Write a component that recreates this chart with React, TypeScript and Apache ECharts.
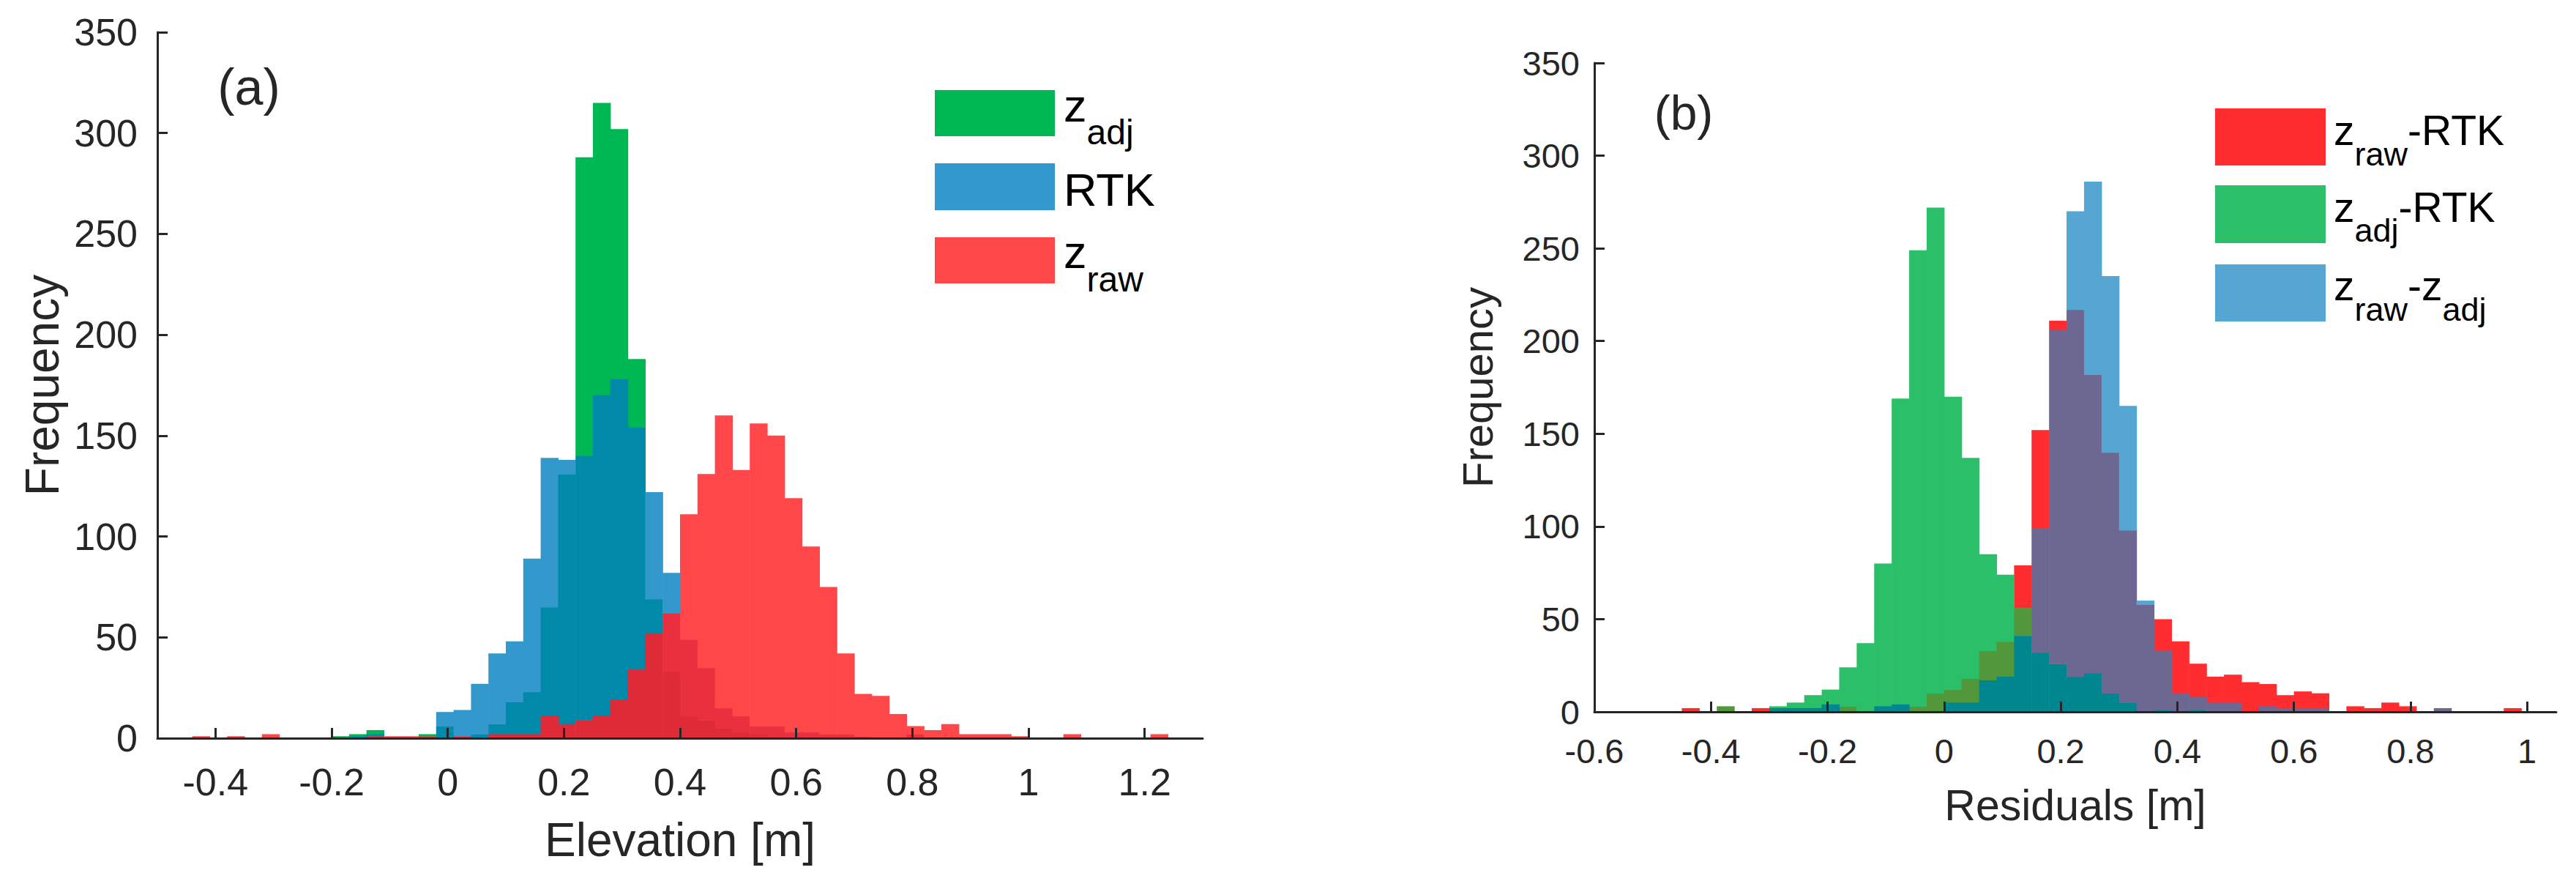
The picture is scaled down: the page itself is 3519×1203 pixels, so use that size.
import React, { useEffect, useRef } from 'react';
import * as echarts from 'echarts';

const FONT = '"Liberation Sans", Arial, Helvetica, sans-serif';
const AXIS_COLOR = '#262626';

// ---------- Panel (a): Elevation histograms ----------
const elevationBinStart = -0.47;
const elevationBinWidth = 0.03;
const elevationTicks = [-0.4, -0.2, 0, 0.2, 0.4, 0.6, 0.8, 1, 1.2];
const elevationNames = ['z_adj', 'RTK', 'z_raw'];
const zadjCounts = [
  0, 0, 0, 0, 0, 0, 0, 0, 0, 1, 2, 4, 0, 0, 2, 6, 0, 2, 7, 18, 23, 65, 131, 288, 315, 302, 188, 69, 33, 11, 9, 5, 3, 2,
  0, 0, 0, 0, 0, 0, 0, 0, 0, 0, 0, 0, 0, 0, 0, 0, 0, 0, 0, 0, 0, 0, 0,
];
const rtkCounts = [
  0, 0, 0, 0, 0, 0, 0, 0, 0, 0, 1, 2, 0, 0, 0, 13, 14, 27, 42, 48, 89, 139, 138, 140, 170, 178, 154, 122, 82, 49, 35, 15, 11, 6,
  6, 3, 3, 2, 2, 1, 0, 0, 2, 0, 0, 0, 0, 0, 0, 0, 0, 0, 0, 0, 0, 0, 0,
];
const zrawCounts = [
  0, 1, 0, 1, 0, 2, 0, 0, 0, 0, 0, 1, 1, 1, 1, 0, 1, 0, 2, 2, 2, 11, 7, 9, 11, 19, 34, 52, 62, 111, 131, 160, 133, 156,
  150, 119, 95, 75, 42, 22, 21, 12, 6, 4, 7, 2, 2, 2, 1, 0, 0, 2, 0, 0, 0, 0, 2,
];

// ---------- Panel (b): Residual histograms ----------
const residualBinStart = -0.45;
const residualBinWidth = 0.03;
const residualTicks = [-0.6, -0.4, -0.2, 0, 0.2, 0.4, 0.6, 0.8, 1];
const residualNames = ['z_raw-RTK', 'z_adj-RTK', 'z_raw-z_adj'];
const zrawRtkCounts = [
  2, 0, 3, 0, 2, 0, 0, 0, 0, 3, 0, 0, 0, 3, 10, 12, 18, 33, 38, 79, 152, 211, 217, 182, 140, 98, 58, 50, 38, 26, 19, 20,
  16, 15, 9, 11, 10, 0, 3, 2, 5, 3, 0, 2, 0, 0, 0, 2,
];
const zadjRtkCounts = [
  0, 0, 3, 0, 0, 3, 5, 9, 12, 24, 37, 80, 169, 249, 272, 170, 137, 85, 74, 56, 32, 26, 19, 21, 10, 5, 0, 1, 0, 1, 0, 0,
  0, 0, 0, 0, 0, 0, 0, 0, 0, 0, 0, 0, 0, 0, 0, 0,
];
const zrawZadjCounts = [
  0, 0, 0, 0, 0, 2, 2, 2, 4, 0, 0, 3, 4, 0, 0, 5, 5, 17, 19, 41, 99, 206, 270, 286, 235, 165, 60, 33, 10, 8, 5, 5,
  0, 3, 2, 2, 2, 0, 0, 0, 0, 0, 0, 2, 0, 0, 0, 0,
];

const frequencyMax = 350;
const frequencyStep = 50;

// overlap colours, keyed by bit mask of the series covering a region
const elevationColors: Record<number, string> = {
  1: '#00B853', // z_adj
  2: '#3399CC', // RTK
  3: '#0089A8', // z_adj + RTK
  4: '#FF474A', // z_raw
  5: '#E23A3E', // z_adj + z_raw
  6: '#E9303E', // RTK + z_raw
  7: '#DF2A37', // all
};
const residualColors: Record<number, string> = {
  1: '#FF2D2F', // z_raw-RTK
  2: '#2BBF69', // z_adj-RTK
  3: '#52983B',
  4: '#56A6D3', // z_raw-z_adj
  5: '#6D6891',
  6: '#00868F',
  7: '#00868F',
};

function buildRows(start: number, width: number, a: number[], b: number[], c: number[]) {
  return a.map((_, i) => [
    Number((start + i * width).toFixed(4)),
    Number((start + (i + 1) * width).toFixed(4)),
    a[i],
    b[i],
    c[i],
  ]);
}

function makeRenderItem(seriesIdx: number, colors: Record<number, string>) {
  return (_params: any, api: any) => {
    const x0 = api.value(0);
    const x1 = api.value(1);
    const h = [api.value(2), api.value(3), api.value(4)];
    const levels = Array.from(new Set([0, ...h])).sort((p, q) => p - q);
    const children: any[] = [];
    for (let j = 1; j < levels.length; j++) {
      const lo = levels[j - 1];
      const hi = levels[j];
      let mask = 0;
      let top = -1;
      for (let k = 0; k < 3; k++) {
        if (h[k] >= hi) {
          mask |= 1 << k;
          top = k;
        }
      }
      if (mask === 0 || top !== seriesIdx) continue;
      const p0 = api.coord([x0, hi]);
      const p1 = api.coord([x1, lo]);
      children.push({
        type: 'rect',
        shape: {
          x: p0[0],
          y: p0[1],
          width: p1[0] - p0[0] + 0.6,
          height: p1[1] - p0[1] + (lo > 0 ? 0.6 : 0),
        },
        style: { fill: colors[mask] },
      });
    }
    return { type: 'group', children };
  };
}

function panelSeries(
  axisIndex: number,
  names: string[],
  rows: number[][],
  colors: Record<number, string>,
) {
  return names.map((name, s) => ({
    type: 'custom',
    name,
    xAxisIndex: axisIndex,
    yAxisIndex: axisIndex,
    silent: true,
    encode: { x: [0, 1], y: [2, 3, 4] },
    data: rows,
    renderItem: makeRenderItem(s, colors),
    z: 2,
  }));
}

function xAxisDef(gridIndex: number, min: number, max: number, ticks: number[], fontSize: number, margin: number) {
  return {
    type: 'value',
    gridIndex,
    min,
    max,
    z: 5,
    axisLine: { show: true, onZero: false, lineStyle: { color: AXIS_COLOR, width: 3 } },
    axisTick: { show: true, inside: true, length: 14, customValues: ticks, lineStyle: { color: AXIS_COLOR, width: 3 } },
    axisLabel: { show: true, customValues: ticks, fontSize, fontFamily: FONT, color: AXIS_COLOR, margin },
    splitLine: { show: false },
  };
}

function yAxisDef(gridIndex: number, fontSize: number, margin: number) {
  return {
    type: 'value',
    gridIndex,
    min: 0,
    max: frequencyMax,
    interval: frequencyStep,
    z: 5,
    axisLine: { show: true, onZero: false, lineStyle: { color: AXIS_COLOR, width: 3 } },
    axisTick: { show: true, inside: true, length: 14, lineStyle: { color: AXIS_COLOR, width: 3 } },
    axisLabel: { show: true, fontSize, fontFamily: FONT, color: AXIS_COLOR, margin },
    splitLine: { show: false },
  };
}

let measureCtx: CanvasRenderingContext2D | null = null;
function textWidth(text: string, size: number) {
  if (!measureCtx) measureCtx = document.createElement('canvas').getContext('2d');
  if (!measureCtx) return text.length * size * 0.55;
  measureCtx.font = `${size}px "Liberation Sans"`;
  return measureCtx.measureText(text).width;
}

function legendEntry(
  sw: [number, number, number, number],
  color: string,
  textX: number,
  mainBase: number,
  subBase: number,
  parts: [string, boolean][],
  fMain: number,
  fSub: number,
) {
  const els: any[] = [
    { type: 'rect', shape: { x: sw[0], y: sw[1], width: sw[2], height: sw[3] }, style: { fill: color } },
  ];
  let cx = textX;
  for (const [t, sub] of parts) {
    const f = sub ? fSub : fMain;
    const base = sub ? subBase : mainBase;
    els.push({
      type: 'text',
      x: cx,
      y: base - 0.3465 * f,
      style: { text: t, fontSize: f, fontFamily: FONT, fill: '#000', align: 'left', verticalAlign: 'middle' },
    });
    cx += textWidth(t, f);
  }
  return els;
}

function textEl(text: string, x: number, y: number, fontSize: number, rotation = 0) {
  return {
    type: 'text',
    x,
    y,
    rotation,
    style: { text, fontSize, fontFamily: FONT, fill: AXIS_COLOR, align: 'center', verticalAlign: 'middle' },
  };
}

function buildOption() {
  const rowsA = buildRows(elevationBinStart, elevationBinWidth, zadjCounts, rtkCounts, zrawCounts);
  const rowsB = buildRows(residualBinStart, residualBinWidth, zrawRtkCounts, zadjRtkCounts, zrawZadjCounts);

  const graphic: any[] = [
    textEl('(a)', 340, 119, 70),
    textEl('(b)', 2300, 154, 66),
    textEl('Elevation [m]', 929, 1147, 64),
    textEl('Residuals [m]', 2835, 1100, 59),
    textEl('Frequency', 58, 526, 64, Math.PI / 2),
    textEl('Frequency', 2018, 529, 58, Math.PI / 2),
    ...legendEntry([1277, 123, 164, 63], elevationColors[1], 1453, 166, 197, [['z', false], ['adj', true]], 63, 48),
    ...legendEntry([1277, 223, 164, 64], elevationColors[2], 1453, 281, 281, [['RTK', false]], 63, 48),
    ...legendEntry([1277, 324, 164, 63], elevationColors[4], 1453, 366, 398, [['z', false], ['raw', true]], 63, 48),
    ...legendEntry([3026, 148, 151, 78], residualColors[1], 3188, 198, 226, [['z', false], ['raw', true], ['-RTK', false]], 57, 45),
    ...legendEntry([3026, 253, 151, 79], residualColors[2], 3188, 303, 330, [['z', false], ['adj', true], ['-RTK', false]], 57, 45),
    ...legendEntry([3026, 361, 151, 78], residualColors[4], 3188, 410, 438, [['z', false], ['raw', true], ['-z', false], ['adj', true]], 57, 45),
  ];

  return {
    animation: false,
    backgroundColor: '#ffffff',
    grid: [
      { left: 215, top: 44, width: 1428, height: 964 },
      { left: 2178, top: 86, width: 1314, height: 886 },
    ],
    xAxis: [
      xAxisDef(0, -0.5, 1.3, elevationTicks, 52, 34),
      xAxisDef(1, -0.6, 1.05, residualTicks, 47, 30),
    ],
    yAxis: [yAxisDef(0, 52, 27), yAxisDef(1, 47, 20)],
    series: [
      ...panelSeries(0, elevationNames, rowsA, elevationColors),
      ...panelSeries(1, residualNames, rowsB, residualColors),
    ],
    graphic: { elements: graphic },
  };
}

export default function App() {
  const ref = useRef<HTMLDivElement>(null);
  useEffect(() => {
    const el = ref.current;
    if (!el) return;
    const chart = echarts.init(el, null, { renderer: 'svg', width: 3519, height: 1203 });
    chart.setOption(buildOption() as any);
    return () => chart.dispose();
  }, []);
  return (
    <div
      ref={ref}
      style={{ position: 'absolute', left: 0, top: 0, width: 3519, height: 1203, background: '#ffffff' }}
    />
  );
}
